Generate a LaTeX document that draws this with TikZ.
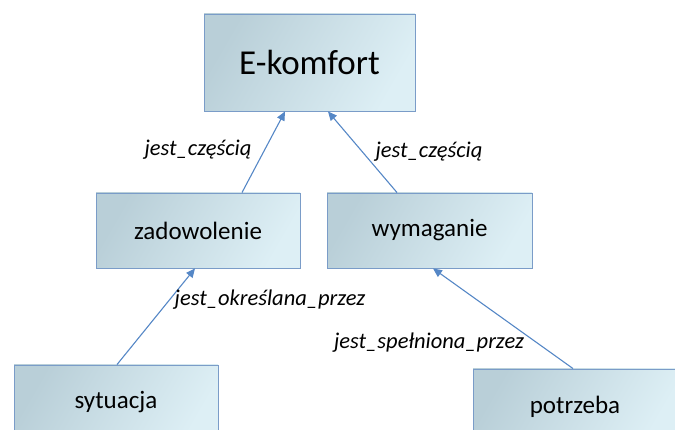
\documentclass[tikz,border=0pt]{standalone}
\usepackage{fontspec}
\setmainfont{Carlito}
\usetikzlibrary{arrows.meta,calc}
\definecolor{boxdark}{HTML}{B9CFD8}
\definecolor{boxlight}{HTML}{DDEFF5}
\definecolor{boxedge}{HTML}{7A9CC8}
\definecolor{arrowc}{HTML}{5587C6}
\tikzset{
  concept/.style={draw=boxedge, line width=0.9pt, left color=boxdark, right color=boxlight, shading angle=60, inner sep=0pt, font=\fontsize{25}{30}\selectfont},
  rel/.style={draw=arrowc, line width=1.1pt, -{Triangle[length=9pt,width=8pt]}},
  rellabel/.style={inner sep=0pt, font=\fontsize{22.5}{27}\selectfont\itshape}
}
\begin{document}
\begin{tikzpicture}[x=1pt,y=-1pt]
\useasboundingbox (0,0) rectangle (675,430);
\node[concept, minimum width=211pt, minimum height=97pt, font=\fontsize{35}{42}\selectfont] (ek) at (309.5,62.5) {E-komfort};
\node[concept, minimum width=204pt, minimum height=75pt] (zad) at (198,230.5) {zadowolenie};
\node[concept, minimum width=205pt, minimum height=75pt] (wym) at (429.5,230.5) {wymaganie};
\node[concept, minimum width=204pt, minimum height=75pt] (syt) at (116,402.5) {sytuacja};
\node[concept, minimum width=204pt, minimum height=75pt] (pot) at (575,406.5) {potrzeba};
\draw[rel] ($(zad.north)+(44,0)$) -- ($(ek.south)+(-24.5,0)$);
\draw[rel] ($(wym.north)+(-32.5,0)$) -- ($(ek.south)+(18.5,0)$);
\draw[rel] ($(syt.north)+(1,0)$) -- ($(zad.south)+(-3,0)$);
\draw[rel] ($(pot.north)+(-2,0)$) -- ($(wym.south)+(3.5,0)$);
\node[rellabel] (l1) at (198,150) {jest\_częścią};
\node[rellabel] (l2) at (429,152) {jest\_częścią};
\node[rellabel] (l3) at (270,300) {jest\_określana\_przez};
\node[rellabel] (l4) at (429,343) {jest\_spełniona\_przez};
\end{tikzpicture}
\end{document}
